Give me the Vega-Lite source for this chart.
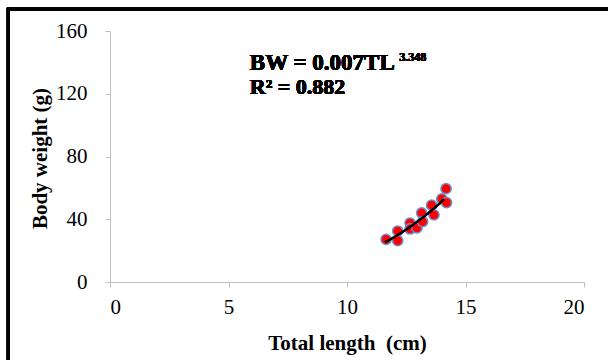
{
  "$schema": "https://vega.github.io/schema/vega-lite/v6.json",
  "width": 474,
  "height": 251,
  "autosize": {"type": "none"},
  "padding": {"left": 110, "top": 31, "right": 24, "bottom": 78},
  "background": "white",
  "config": {"view": {"stroke": null}, "font": "Liberation Serif"},
  "data": {
    "values": [
      {"TL": 11.65, "BW": 27.2},
      {"TL": 12.14, "BW": 32.5},
      {"TL": 12.14, "BW": 26.4},
      {"TL": 12.66, "BW": 37.6},
      {"TL": 12.66, "BW": 33.8},
      {"TL": 12.95, "BW": 34.5},
      {"TL": 13.15, "BW": 44.0},
      {"TL": 13.19, "BW": 38.5},
      {"TL": 13.57, "BW": 49.0},
      {"TL": 13.67, "BW": 42.8},
      {"TL": 14.0, "BW": 53.0},
      {"TL": 14.18, "BW": 59.5},
      {"TL": 14.2, "BW": 50.6}
    ]
  },
  "layer": [
    {
      "mark": {"type": "rect", "fill": null, "stroke": "black", "strokeWidth": 2.5, "clip": false},
      "encoding": {
        "x": {"datum": -4.3, "type": "quantitative", "scale": {"domain": [0, 20]}},
        "x2": {"datum": 21.5},
        "y": {"datum": 174.0, "type": "quantitative", "scale": {"domain": [0, 160]}},
        "y2": {"datum": -55}
      }
    },
    {
      "mark": {"type": "point", "filled": true, "fill": "#ff0000", "stroke": "#6f8fd0", "strokeWidth": 1.5, "opacity": 1, "size": 105},
      "encoding": {
        "x": {
          "field": "TL", "type": "quantitative",
          "scale": {"domain": [0, 20], "nice": false, "zero": true},
          "axis": {
            "values": [0, 5, 10, 15, 20],
            "title": "Total length\u00a0 (cm)",
            "grid": false,
            "domainColor": "#bfbfbf", "tickColor": "#bfbfbf", "tickSize": 5,
            "labelFont": "Liberation Serif", "labelFontSize": 21, "labelColor": "black", "labelPadding": 9,
            "titleFont": "Liberation Serif", "titleFontSize": 21, "titleFontWeight": "bold", "titleColor": "black",
            "titleY": 50, "titleBaseline": "top"
          }
        },
        "y": {
          "field": "BW", "type": "quantitative",
          "scale": {"domain": [0, 160], "nice": false},
          "axis": {
            "values": [0, 40, 80, 120, 160],
            "title": "Body weight (g)",
            "grid": false,
            "domainColor": "#bfbfbf", "tickColor": "#bfbfbf", "tickSize": 5,
            "labelFont": "Liberation Serif", "labelFontSize": 21, "labelColor": "black", "labelPadding": 18,
            "titleFont": "Liberation Serif", "titleFontSize": 21, "titleFontWeight": "bold", "titleColor": "black",
            "titleX": -70, "titleY": 127, "titleBaseline": "middle"
          }
        }
      }
    },
    {
      "transform": [{"regression": "BW", "on": "TL", "method": "pow", "extent": [11.6, 14.1]}],
      "mark": {"type": "line", "color": "black", "strokeWidth": 2.5},
      "encoding": {
        "x": {"field": "TL", "type": "quantitative"},
        "y": {"field": "BW", "type": "quantitative"}
      }
    },
    {
      "mark": {"type": "text", "text": "BW = 0.007TL", "font": "Liberation Serif", "fontSize": 23, "fontWeight": "bold", "align": "left", "baseline": "middle", "color": "black"},
      "encoding": {
        "x": {"datum": 5.9, "type": "quantitative"},
        "y": {"datum": 139.5, "type": "quantitative"}
      }
    },
    {
      "mark": {"type": "text", "text": "3.348", "font": "Liberation Serif", "fontSize": 12, "fontWeight": "bold", "align": "left", "baseline": "middle", "color": "black"},
      "encoding": {
        "x": {"datum": 12.2, "type": "quantitative"},
        "y": {"datum": 143.5, "type": "quantitative"}
      }
    },
    {
      "mark": {"type": "text", "text": "R² = 0.882", "font": "Liberation Serif", "fontSize": 22, "fontWeight": "bold", "align": "left", "baseline": "middle", "color": "black"},
      "encoding": {
        "x": {"datum": 5.9, "type": "quantitative"},
        "y": {"datum": 124.4, "type": "quantitative"}
      }
    }
  ]
}
